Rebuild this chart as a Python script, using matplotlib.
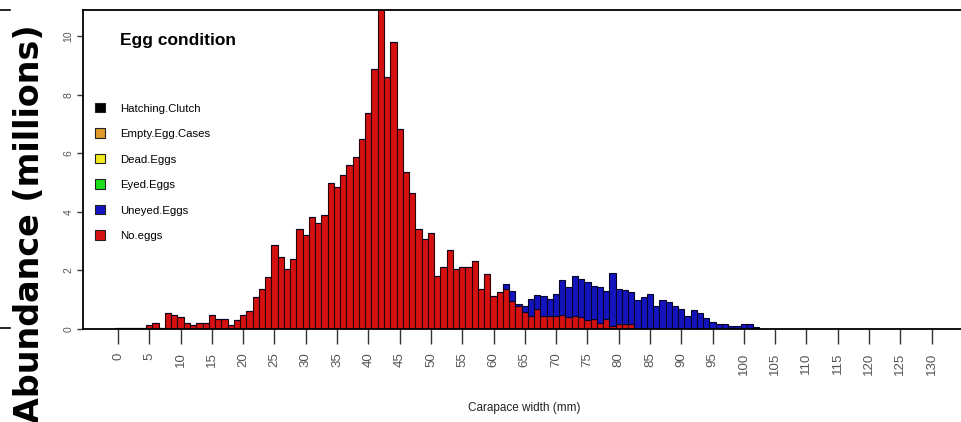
# Egg condition by carapace width - stacked abundance bars
import numpy as np
import matplotlib.pyplot as plt
from matplotlib.patches import Patch
from matplotlib.lines import Line2D

narrow = ["Liberation Sans Narrow", "Liberation Sans", "DejaVu Sans"]

# carapace width classes (mm)
width_mm = list(range(0, 131))

# No.eggs abundance (millions), one value per mm class 0..130
no_eggs = [
    0.03, 0.03, 0.03, 0.03, 0.04, 0.12, 0.20, 0.03, 0.55, 0.47,
    0.40, 0.22, 0.13, 0.20, 0.20, 0.47, 0.33, 0.33, 0.13, 0.30,
    0.47, 0.62, 1.10, 1.36, 1.78, 2.87, 2.47, 2.05, 2.39, 3.41,
    3.22, 3.81, 3.62, 3.89, 5.00, 4.86, 5.26, 5.61, 5.88, 6.48,
    7.37, 8.90, 11.50, 8.62, 9.79, 6.83, 5.35, 4.66, 3.41, 3.07,
    3.27, 1.82, 2.11, 2.71, 2.05, 2.11, 2.11, 2.31, 1.36, 1.89,
    1.14, 1.28, 1.35, 0.95, 0.79, 0.57, 0.43, 0.69, 0.43, 0.43,
    0.45, 0.49, 0.41, 0.43, 0.41, 0.30, 0.35, 0.20, 0.34, 0.11,
    0.17, 0.17, 0.17, 0, 0, 0, 0, 0, 0, 0,
    0, 0, 0, 0, 0, 0, 0, 0, 0, 0,
    0, 0, 0, 0, 0, 0, 0, 0, 0, 0,
    0, 0, 0, 0, 0, 0, 0, 0, 0, 0,
    0, 0, 0, 0, 0, 0, 0, 0, 0, 0,
    0,
]

# Uneyed.Eggs abundance (millions), stacked on top of No.eggs
uneyed = [
    0, 0, 0, 0, 0, 0, 0, 0, 0, 0,
    0, 0, 0, 0, 0, 0, 0, 0, 0, 0,
    0, 0, 0, 0, 0, 0, 0, 0, 0, 0,
    0, 0, 0, 0, 0, 0, 0, 0, 0, 0,
    0, 0, 0, 0, 0, 0, 0, 0, 0, 0,
    0, 0, 0, 0, 0, 0, 0, 0, 0, 0,
    0, 0, 0.19, 0.34, 0.08, 0.23, 0.59, 0.46, 0.70, 0.58,
    0.75, 1.19, 1.01, 1.39, 1.30, 1.32, 1.13, 1.22, 0.97, 1.80,
    1.19, 1.17, 1.11, 1.00, 1.08, 1.20, 0.77, 1.00, 0.93, 0.77,
    0.69, 0.43, 0.65, 0.56, 0.36, 0.23, 0.17, 0.17, 0.10, 0.10,
    0.17, 0.17, 0.07, 0, 0, 0, 0, 0, 0, 0,
    0, 0, 0, 0, 0, 0, 0, 0, 0, 0,
    0, 0, 0, 0, 0, 0, 0, 0, 0, 0,
    0,
]

legend_labels = ["Hatching.Clutch", "Empty.Egg.Cases", "Dead.Eggs",
                 "Eyed.Eggs", "Uneyed.Eggs", "No.eggs"]
legend_colors = ["#000000", "#E09A2A", "#F2EA1E", "#1EE01E", "#1414C0", "#D81212"]

x_ticks = list(range(0, 131, 5))
y_ticks = [0, 2, 4, 6, 8, 10]

fig = plt.figure(figsize=(9.61, 4.22), dpi=100)
ax = fig.add_axes([83 / 961, 93 / 422, 878 / 961, 319 / 422])

ax.bar(width_mm, no_eggs, width=1.0, color="#D41010", edgecolor="#2a0505", linewidth=0.8)
ax.bar(width_mm, uneyed, width=1.0, bottom=no_eggs, color="#1414BE",
       edgecolor="#05052a", linewidth=0.8)

ax.set_xlim(-5.6, 134.7)
ax.set_ylim(0, 10.9)
ax.spines["right"].set_visible(False)
for s in ["left", "top", "bottom"]:
    ax.spines[s].set_linewidth(1.3)

ax.set_xticks(x_ticks)
ax.set_xticklabels([str(t) for t in x_ticks], family=narrow)
ax.tick_params(axis="x", length=11, width=1, pad=6, labelsize=9.5,
               labelrotation=90, color="#333333", labelcolor="#555555")
ax.set_yticks(y_ticks)
ax.set_yticklabels([str(t) for t in y_ticks], family=narrow, va="center")
ax.tick_params(axis="y", length=4, width=1, pad=3, labelsize=7.5,
               labelrotation=90, color="#333333", labelcolor="#555555")

# legend
handles = [Patch(facecolor=c, edgecolor="#222222", linewidth=0.8) for c in legend_colors]
leg = ax.legend(handles, legend_labels, loc="upper left", frameon=False,
                bbox_to_anchor=(95 / 961, 1 - 103 / 422), bbox_transform=fig.transFigure,
                borderpad=0, borderaxespad=0, handlelength=0.9, handleheight=0.9,
                handletextpad=1.3, labelspacing=1.3, prop={"family": narrow, "size": 8.2})
fig.text(120 / 961, 1 - 40 / 422, "Egg condition", family=narrow, fontsize=12.5,
         fontweight="bold", ha="left", va="center")

fig.text(524 / 961, 1 - 408 / 422, "Carapace width (mm)", family=narrow,
         fontsize=8.5, ha="center", va="center", color="#222222")
fig.text(30 / 961, 1 - 224 / 422, "Abundance (millions)", rotation=90,
         fontsize=24, fontweight="bold", ha="center", va="center")

# bits of the neighbouring panel frame at the left edge
for yp in [10, 328]:
    fig.add_artist(Line2D([0, 10 / 961], [1 - yp / 422] * 2, transform=fig.transFigure,
                          color="black", linewidth=1.2))

fig.savefig("out.png", dpi=100)
